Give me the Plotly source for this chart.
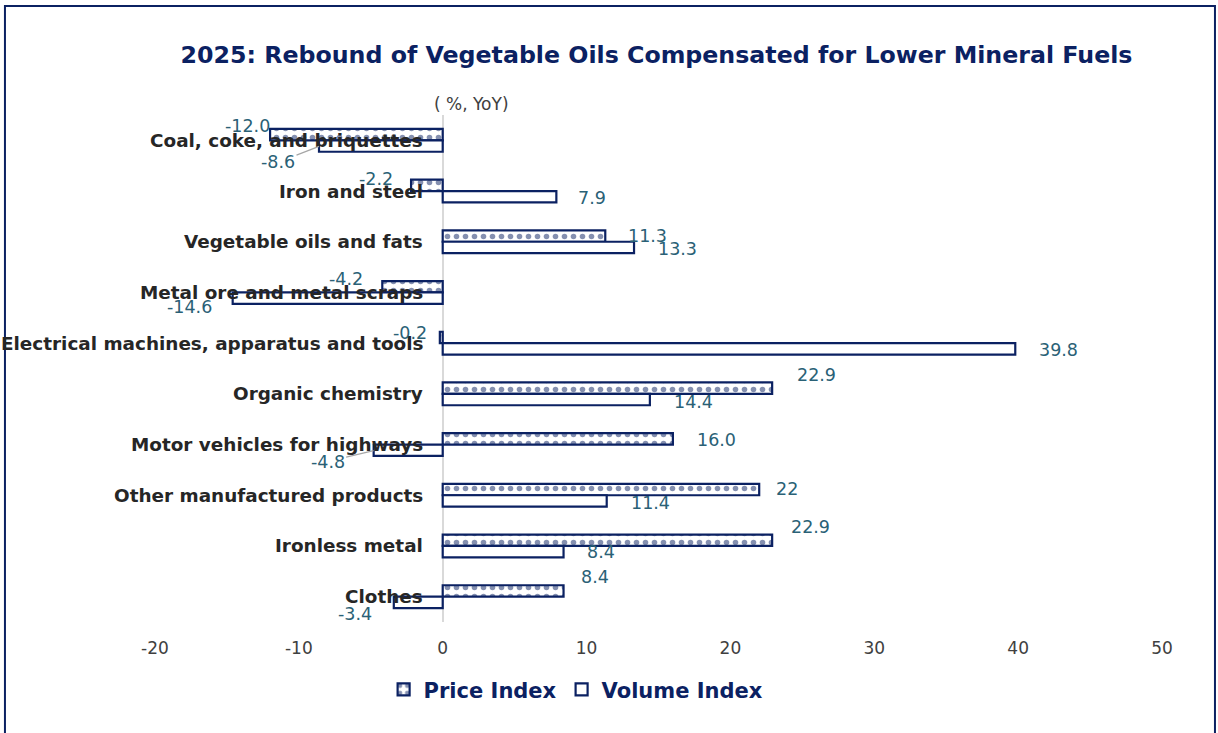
import plotly.graph_objects as go

categories = ["Coal, coke, and briquettes", "Iron and steel", "Vegetable oils and fats",
              "Metal ore and metal scraps", "Electrical machines, apparatus and tools",
              "Organic chemistry", "Motor vehicles for highways", "Other manufactured products",
              "Ironless metal", "Clothes"]
price_index = [-12.0, -2.2, 11.3, -4.2, -0.2, 22.9, 16.0, 22, 22.9, 8.4]
volume_index = [-8.6, 7.9, 13.3, -14.6, 39.8, 14.4, -4.8, 11.4, 8.4, -3.4]
price_text = ["-12.0", "-2.2", "11.3", "-4.2", "-0.2", "22.9", "16.0", "22", "22.9", "8.4"]
volume_text = ["-8.6", "7.9", "13.3", "-14.6", "39.8", "14.4", "-4.8", "11.4", "8.4", "-3.4"]
tick_values = [-20, -10, 0, 10, 20, 30, 40, 50]
tick_labels = ["-20", "-10", "0", "10", "20", "30", "40", "50"]

# label nudges in px (dx from bar end, dy from category centre, + is up)
price_nudge = [(-23, 14), (-35, 12), (42, 6), (-36, 13), (-30, 10),
               (44, 19), (44, 5), (28, 6), (38, 19), (31, 20)]
volume_nudge = [(-41, -22), (36, -7), (43, -7), (-43, -15), (43, -7),
                (44, -8), (-46, -17), (44, -8), (37, -6), (-39, -17)]
leader = {"volume": [0, 6]}  # labels drawn with a grey leader line

NAVY = "#0B2162"
TEAL = "#2A6176"
FONT = "DejaVu Sans, Verdana, sans-serif"

fig = go.Figure()
fig.add_trace(go.Bar(
    y=categories, x=price_index, orientation="h", name="Price Index",
    marker=dict(color="white", line=dict(color=NAVY, width=2.2),
                pattern=dict(shape=".", fgcolor=NAVY, bgcolor="white", size=9, solidity=0.3)),
))
fig.add_trace(go.Bar(
    y=categories, x=volume_index, orientation="h", name="Volume Index",
    marker=dict(color="white", line=dict(color=NAVY, width=2.2)),
))

# category labels sit at the zero line like in excel
for cat in categories:
    fig.add_annotation(x=0, y=cat, xref="x", yref="y", text="<b>" + cat + "</b>",
                       showarrow=False, xanchor="right", xshift=-18,
                       font=dict(family=FONT, size=18.4, color="#262626"))

for series, vals, texts, nudges in [("price", price_index, price_text, price_nudge),
                                     ("volume", volume_index, volume_text, volume_nudge)]:
    for i, (cat, v, t) in enumerate(zip(categories, vals, texts)):
        dx, dy = nudges[i]
        if i in leader.get(series, []):
            fig.add_annotation(x=v, y=cat, text=t, showarrow=True, arrowhead=0,
                               arrowwidth=1.2, arrowcolor="#A6A6A6", ax=dx, ay=-(dy + 6),
                               yshift=-6, standoff=0,
                               font=dict(family=FONT, size=17.5, color=TEAL))
        else:
            fig.add_annotation(x=v, y=cat, text=t, showarrow=False,
                               xshift=dx, yshift=dy,
                               font=dict(family=FONT, size=17.5, color=TEAL))

fig.add_annotation(x=0, y=1.022, xref="x", yref="paper", text="( %, YoY)", xshift=29,
                   yanchor="middle", showarrow=False,
                   font=dict(family=FONT, size=17, color="#404040"))

# outer frame
fig.add_shape(type="rect", xref="paper", yref="paper", x0=-0.149, x1=1.0526,
              y0=-0.4, y1=1.215, line=dict(color=NAVY, width=2), layer="below")

fig.update_layout(
    width=1218, height=733,
    margin=dict(l=155, r=56, t=115, b=111),
    paper_bgcolor="white", plot_bgcolor="white",
    title=dict(text="<b>2025: Rebound of Vegetable Oils Compensated for Lower Mineral Fuels</b>",
               x=0.539, xanchor="center", y=0.925, yanchor="middle",
               font=dict(family=FONT, size=23.7, color=NAVY)),
    barmode="group", bargap=0.55, bargroupgap=0,
    showlegend=True,
    legend=dict(orientation="h", x=0.473, xanchor="center", xref="container",
                y=0.059, yanchor="middle", yref="container",
                font=dict(family=FONT, size=21, color=NAVY, weight="bold"),
                itemwidth=30, traceorder="normal"),
    xaxis=dict(range=[-20, 50], tickvals=tick_values, ticktext=tick_labels,
               showgrid=False, zeroline=True, ticklabelstandoff=14,
               zerolinecolor="#D9D9D9", zerolinewidth=2, showline=False,
               tickfont=dict(family=FONT, size=17, color="#404040"), ticks=""),
    yaxis=dict(range=[len(categories) - 0.5, -0.5], showticklabels=False, showgrid=False,
               showline=False, ticks=""),
)

fig.write_html("out.html", config={"displayModeBar": False},
               post_script="document.body.style.margin='0';")
